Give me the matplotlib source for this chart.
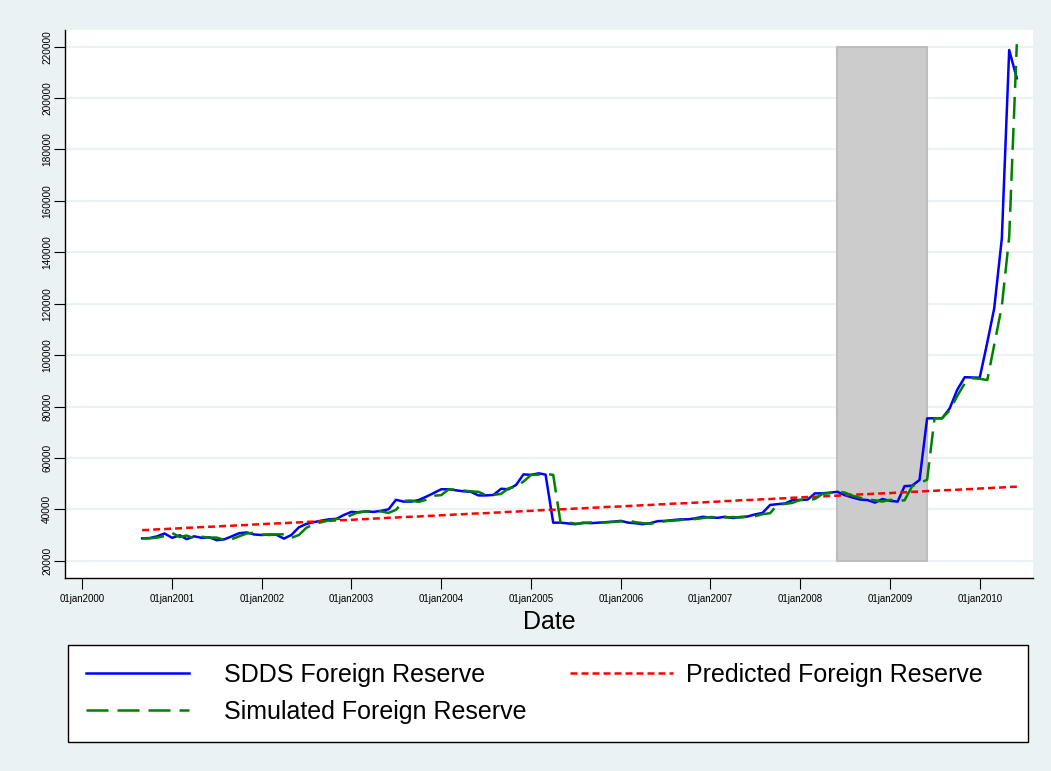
import pandas as pd
import matplotlib
matplotlib.use("Agg")
import matplotlib.pyplot as plt

plt.rcParams['font.family'] = ['Liberation Sans', 'DejaVu Sans']

# monthly observations, Sep 2000 - Jun 2010
dates = pd.date_range("2000-09-01", "2010-06-01", freq="MS")

sdds = [28700, 28800, 29500, 30600, 28900, 29900, 28400, 29500, 28900, 29100,
        28000, 28300, 29500, 30700, 31000, 30200, 30000, 30200, 30100, 28600,
        30000, 33000, 34300, 35000, 35600, 36100, 36300, 37800, 39000, 38800,
        39200, 39000, 39400, 40000, 43700, 43000, 43000, 43600, 44900, 46300,
        47800, 47800, 47400, 47000, 46800, 45400, 45400, 45600, 48000, 47800,
        49500, 53600, 53400, 54000, 53500, 34800, 34800, 34500, 34200, 34800,
        34600, 34800, 35000, 35200, 35500, 34800, 34600, 34200, 34600, 35400,
        35500, 35800, 36100, 36100, 36500, 37100, 36800, 36700, 37100, 36600,
        37000, 37200, 38000, 38600, 41700, 42000, 42300, 43600, 43600, 43800,
        46200, 46200, 46500, 46800, 45500, 44600, 43800, 43600, 42600, 44000,
        43300, 43000, 49000, 49200, 51400, 75400, 75400, 75400, 79300, 86400,
        91400, 91300, 91200, 105000, 118200, 145400, 218700, 207700]

simulated = [28700, 28700, 29000, 29600, 30800, 29200, 29800, 28700, 29300, 29000,
             29000, 28100, 28400, 29500, 30600, 30900, 30200, 30000, 30200, 30300,
             28900, 30000, 32800, 34200, 35000, 35700, 36200, 36500, 37800, 39000,
             39100, 39300, 39200, 38600, 39800, 43300, 43400, 42900, 43700, 45300,
             45500, 47800, 47600, 47300, 47000, 46800, 45500, 45600, 46000, 48200,
             48800, 50800, 53400, 53500, 53800, 53400, 34800, 34900, 34400, 34600,
             34900, 34700, 34900, 35100, 35300, 35600, 35000, 34600, 34400, 34700,
             35400, 35600, 35800, 36200, 36200, 36600, 37000, 36900, 36800, 37000,
             36800, 37100, 37300, 38100, 38500, 41800, 42100, 42500, 43700, 43600,
             44000, 46000, 46300, 46900, 46500, 45300, 44500, 43800, 43500, 43000,
             43700, 43300, 43500, 49000, 50200, 51500, 75400, 75500, 78500, 84000,
             89000, 91000, 90800, 90300, 104000, 119000, 146000, 221000]

predicted = [31900, 32000, 32200, 32300, 32500, 32600, 32800, 32900, 33100, 33200,
             33300, 33500, 33600, 33800, 33900, 34100, 34200, 34400, 34500, 34600,
             34800, 34900, 35100, 35200, 35400, 35500, 35700, 35800, 35900, 36100,
             36200, 36400, 36500, 36700, 36800, 37000, 37100, 37200, 37400, 37500,
             37700, 37800, 38000, 38100, 38300, 38400, 38500, 38700, 38800, 39000,
             39100, 39300, 39400, 39600, 39700, 39800, 40000, 40100, 40300, 40400,
             40600, 40700, 40900, 41000, 41100, 41300, 41400, 41600, 41700, 41900,
             42000, 42200, 42300, 42400, 42600, 42700, 42900, 43000, 43200, 43300,
             43500, 43600, 43700, 43900, 44000, 44200, 44300, 44500, 44600, 44800,
             44900, 45000, 45200, 45300, 45500, 45600, 45800, 45900, 46100, 46200,
             46300, 46500, 46600, 46800, 46900, 47100, 47200, 47400, 47500, 47600,
             47800, 47900, 48100, 48200, 48400, 48500, 48700, 48800]

# shaded crisis period
band_dates = [pd.Timestamp("2008-06-01"), pd.Timestamp("2009-06-01")]
band_low, band_high = 20000, 220000

years = list(range(2000, 2011))
xtick_labels = ["01jan%d" % y for y in years]
yticks = list(range(20000, 220001, 20000))

bg = "#EAF2F3"
fig = plt.figure(figsize=(10.51, 7.71), dpi=100, facecolor=bg)
ax = fig.add_axes([0.0621, 0.2507, 0.9208, 0.7104])
ax.set_facecolor("white")

ax.fill_between(band_dates, band_low, band_high, facecolor="#CCCCCC",
                edgecolor="#BEBEBE", lw=1.5, zorder=1)

l_sdds, = ax.plot(dates, sdds, color="#0000FF", lw=1.8, zorder=3)
l_pred, = ax.plot(dates, predicted, color="#FF0000", lw=1.8,
                  ls=(0, (2.8, 1.6)), zorder=3)
l_sim, = ax.plot(dates, simulated, color="#008000", lw=1.8,
                 ls=(0, (8.8, 3.6)), zorder=4)

ax.set_xlim(pd.Timestamp("1999-10-24"), pd.Timestamp("2010-08-06"))
ax.set_ylim(13385, 226500)

ax.set_xticks([pd.Timestamp("%d-01-01" % y) for y in years])
ax.set_xticklabels(xtick_labels, fontsize=7)
ax.set_yticks(yticks)
ax.set_yticklabels([str(v) for v in yticks], fontsize=7.3, rotation=90, va="center")

ax.tick_params(axis="x", length=8, width=0.8, pad=4)
ax.tick_params(axis="y", length=8, width=0.8, pad=1.5)
ax.yaxis.grid(True, color=bg, lw=1.5)
ax.set_axisbelow(True)

for s in ["top", "right"]:
    ax.spines[s].set_visible(False)
for s in ["left", "bottom"]:
    ax.spines[s].set_color("black")
    ax.spines[s].set_linewidth(1)

ax.set_xlabel("Date", fontsize=18, labelpad=4)

# legend: boxed first column, second column placed on top
leg_kw = dict(loc="upper left", borderaxespad=0, borderpad=0.72,
              labelspacing=0.5, handlelength=4.1, fontsize=18)
fig.legend(handles=[l_sdds, l_sim],
           labels=["SDDS Foreign Reserve", "Simulated Foreign Reserve"],
           mode="expand", bbox_to_anchor=(68 / 1051, 1 - 645 / 771, 960 / 1051, 0.0),
           handletextpad=1.44, frameon=True, fancybox=False, edgecolor="black",
           framealpha=1, facecolor="white", **leg_kw)
fig.legend(handles=[l_pred], labels=["Predicted Foreign Reserve"],
           bbox_to_anchor=(552 / 1051, 1 - 645 / 771), handletextpad=0.56,
           frameon=False, **leg_kw)

fig.savefig("out.png", dpi=100, facecolor=bg)
